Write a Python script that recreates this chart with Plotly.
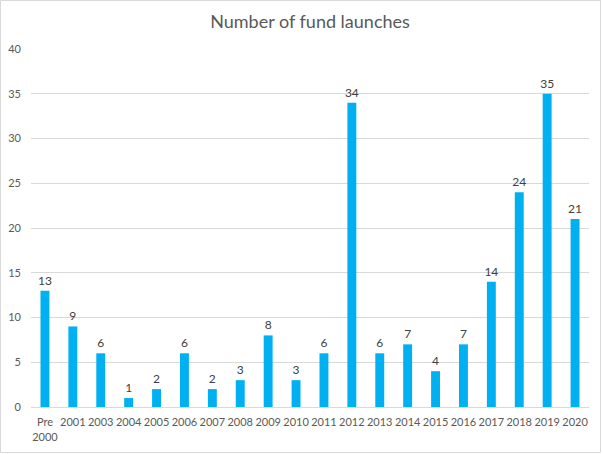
import plotly.graph_objects as go

categories = ["Pre<br>2000", "2001", "2003", "2004", "2005", "2006", "2007", "2008", "2009", "2010",
              "2011", "2012", "2013", "2014", "2015", "2016", "2017", "2018", "2019", "2020"]
launches = [13, 9, 6, 1, 2, 6, 2, 3, 8, 3, 6, 34, 6, 7, 4, 7, 14, 24, 35, 21]
y_ticks = [0, 5, 10, 15, 20, 25, 30, 35, 40]

W, H = 603, 454
ml, mr, mt, mb = 31, 14, 49, 47
pw, ph = W - ml - mr, H - mt - mb

fig = go.Figure(go.Bar(
    x=categories, y=launches,
    marker=dict(color="#00B0F0", line=dict(width=0)),
    text=launches, textposition="outside", cliponaxis=False, constraintext="none",
    textfont=dict(family="Lato, sans-serif", size=12, color="#404040"),
    hoverinfo="skip",
))

fig.update_layout(
    width=W, height=H,
    margin=dict(l=ml, r=mr, t=mt, b=mb, autoexpand=False),
    paper_bgcolor="white", plot_bgcolor="white",
    bargap=0.68,
    showlegend=False,
    title=dict(text="Number of fund launches", x=0.5, xanchor="center", xref="paper",
               y=1 - 22 / H, yanchor="middle", yref="container",
               font=dict(family="Lato, sans-serif", size=18, color="#595959")),
    font=dict(family="Lato, sans-serif", size=11, color="#595959"),
    xaxis=dict(showgrid=False, showline=True, linecolor="#D9D9D9", linewidth=1, ticks="",
               tickfont=dict(size=11, color="#595959"), tickangle=0, automargin=False,
               ticklabelstandoff=5),
    yaxis=dict(range=[0, 40], tickvals=y_ticks, showgrid=True, gridcolor="#D9D9D9", gridwidth=1,
               zeroline=False, showline=False, ticks="", automargin=False, ticklabelstandoff=9,
               tickfont=dict(size=11, color="#595959")),
    shapes=[dict(type="rect", xref="paper", yref="paper",
                 x0=(0.5 - ml) / pw, x1=(W - 2.5 - ml) / pw,
                 y0=-(mb - 1.5) / ph, y1=1 + (mt - 0.5) / ph,
                 line=dict(color="#D9D9D9", width=1), fillcolor="rgba(0,0,0,0)", layer="below")],
)

fig.write_html("out.html", config={"displayModeBar": False},
               post_script="document.body.style.margin='0';")
